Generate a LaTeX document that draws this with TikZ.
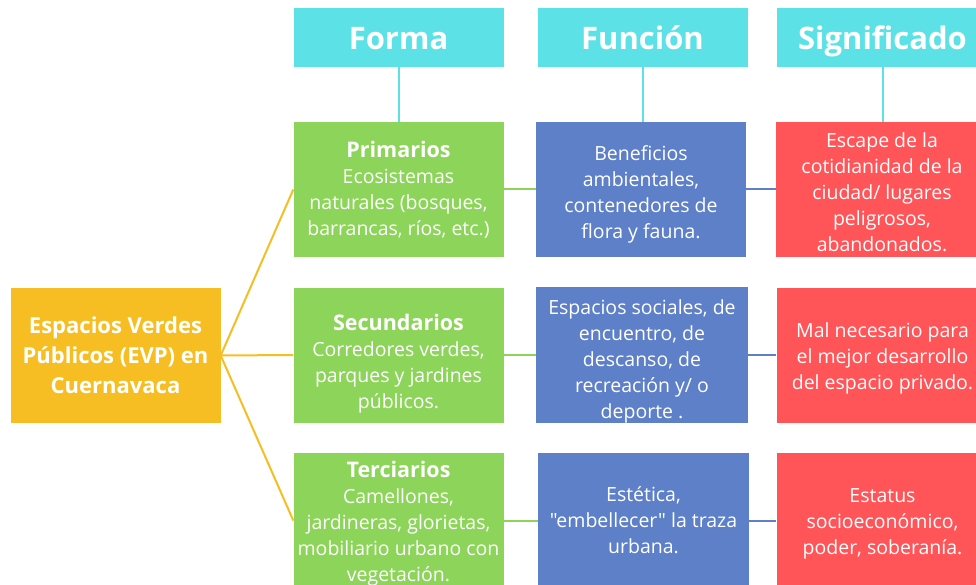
\documentclass[tikz,border=0pt]{standalone}
\usepackage{fontspec}
\setmainfont{Open Sans}[Ligatures=TeXOff]
\definecolor{hcyan}{RGB}{92,225,230}
\definecolor{bgreen}{RGB}{140,212,90}
\definecolor{bblue}{RGB}{93,128,200}
\definecolor{bred}{RGB}{255,84,88}
\definecolor{byellow}{RGB}{246,190,34}
\newcommand\ttlfont{\fontsize{21.5}{26}\selectfont\bfseries}
\newcommand\pushdown[1]{\rule{0pt}{#1pt}}
\begin{document}
\begin{tikzpicture}[x=1pt,y=-1pt,
  box/.style={rectangle, draw=none, minimum width=210pt, minimum height=135pt, inner sep=0pt, align=center, text=white, font=\fontsize{19.5}{26}\selectfont},
  hdr/.style={rectangle, fill=hcyan, minimum width=210pt, minimum height=59pt, inner sep=0pt, text height=23.5pt, text depth=0pt, text=white, font=\fontsize{31}{37}\selectfont\bfseries},
  gbox/.style={box, fill=bgreen},
  bbox/.style={box, fill=bblue},
  rbox/.style={box, fill=bred},
  ybox/.style={box, fill=byellow, font=\fontsize{22}{30}\selectfont\bfseries},
  cline/.style={draw=hcyan, line width=2pt},
  yline/.style={draw=byellow, line width=2pt},
  gline/.style={draw=bgreen, line width=2pt},
  bline/.style={draw=bblue, line width=2pt}
]
\useasboundingbox (0,0) rectangle (976,585);
\clip (0,0) rectangle (976,585);
\fill[white] (0,0) rectangle (976,585);

% headers
\node[hdr] (forma) at (398.5,37.5) {Forma};
\node[hdr] (funcion) at (642.5,37.5) {Función};
\node[hdr, minimum width=212pt] (signif) at (882.5,37.5) {Significado};

% central
\node[ybox] (evp) at (115.5,355.5) {Espacios Verdes\\Públicos (EVP) en\\Cuernavaca};

% row 1
\node[gbox] (p1) at (398.5,189.5) {{\ttlfont Primarios}\\Ecosistemas\\naturales (bosques,\\barrancas, ríos, etc.)};
\node[bbox] (f1) at (641,189.5) {\pushdown{24}Beneficios\\ambientales,\\contenedores de\\flora y fauna.};
\node[rbox, minimum width=212pt] (s1) at (882,189.5) {\pushdown{21}Escape de la\\cotidianidad de la\\ciudad/ lugares\\peligrosos,\\abandonados.};

% row 2
\node[gbox] (p2) at (398.5,355) {{\ttlfont\pushdown{34}Secundarios}\\Corredores verdes,\\parques y jardines\\públicos.};
\node[bbox, minimum width=212pt] (f2) at (642,355) {\pushdown{27}Espacios sociales, de\\encuentro, de\\descanso, de\\recreación y/ o\\deporte .};
\node[rbox, minimum width=212pt] (s2) at (882.5,355) {\pushdown{21}Mal necesario para\\el mejor desarrollo\\del espacio privado.};

% row 3
\node[gbox] (p3) at (398.5,520.5) {{\ttlfont\pushdown{23}Terciarios}\\Camellones,\\jardineras, glorietas,\\mobiliario urbano con\\vegetación.};
\node[bbox, minimum width=211pt] (f3) at (643.5,520.5) {Estética,\\"embellecer" la traza\\urbana.};
\node[rbox, minimum width=212pt] (s3) at (882.5,520.5) {\pushdown{21}Estatus\\socioeconómico,\\poder, soberanía.};

% header connectors
\draw[cline] (forma.south) -- (p1.north);
\draw[cline] (funcion.south) -- (funcion.south |- f1.north);
\draw[cline] (signif.south) -- (signif.south |- s1.north);

% central connectors
\draw[yline] (evp.east) -- (p1.west);
\draw[yline] (evp.east) -- (p2.west);
\draw[yline] (evp.east) -- (p3.west);

% row connectors
\draw[gline] (p1.east) -- (f1.west);
\draw[gline] (p2.east) -- (f2.west);
\draw[gline] (p3.east) -- (f3.west);
\draw[bline] (f1.east) -- (s1.west);
\draw[bline] (f2.east) -- (s2.west);
\draw[bline] (f3.east) -- (s3.west);
\end{tikzpicture}
\end{document}
